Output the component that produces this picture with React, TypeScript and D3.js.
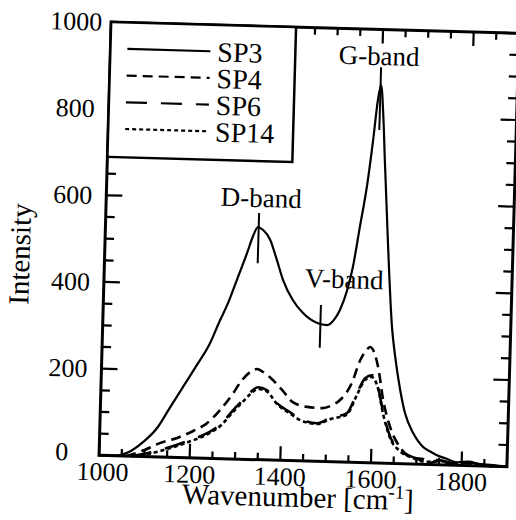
import React from "react";
import * as d3 from "d3";

// Raman spectra: [wavenumber, intensity]
const sp3 = [
  [1030, 0], [1046, 2], [1070, 12], [1096, 33], [1128, 69], [1153, 114],
  [1181, 163], [1210, 214], [1238, 266], [1258, 318], [1275, 359],
  [1293, 413], [1314, 476], [1326, 515], [1336, 536], [1348, 530],
  [1364, 508], [1380, 462], [1395, 416], [1418, 370], [1441, 341],
  [1473, 319], [1495, 315], [1510, 328], [1522, 350], [1537, 397],
  [1548, 450], [1561, 543], [1574, 636], [1585, 745], [1593, 837],
  [1599, 872], [1606, 800], [1612, 699], [1624, 508], [1638, 315],
  [1647, 246], [1660, 170], [1672, 117], [1691, 72], [1714, 40],
  [1730, 30], [1745, 22], [1765, 15], [1790, 7], [1815, 9], [1841, 4],
  [1870, 3], [1900, 0],
];

const sp4 = [
  [1060, 0], [1100, 15], [1133, 32], [1171, 45], [1206, 62], [1236, 81],
  [1264, 112], [1289, 147], [1311, 183], [1330, 203], [1343, 209],
  [1356, 203], [1372, 191], [1400, 162], [1424, 135], [1456, 125],
  [1489, 123], [1510, 130], [1528, 143], [1553, 183], [1570, 236],
  [1582, 258], [1591, 267], [1600, 256], [1610, 221], [1623, 146],
  [1640, 84], [1663, 38], [1693, 14], [1715, 12], [1730, 4], [1750, 9],
  [1775, 4], [1800, 7], [1830, 2], [1860, 0],
];

const sp6 = [
  [1070, 0], [1110, 9], [1149, 21], [1200, 41], [1237, 58], [1269, 82],
  [1293, 113], [1314, 137], [1330, 155], [1346, 167], [1366, 161],
  [1389, 132], [1418, 112], [1448, 94], [1479, 88], [1507, 101],
  [1544, 113], [1565, 160], [1582, 195], [1597, 202], [1611, 175],
  [1624, 116], [1641, 61], [1663, 31], [1692, 16], [1720, 8], [1750, 11],
  [1780, 5], [1810, 8], [1850, 2], [1880, 0],
];

const sp14 = [
  [1075, 0], [1115, 8], [1150, 19], [1200, 38], [1237, 55], [1269, 79],
  [1293, 109], [1314, 133], [1330, 151], [1346, 163], [1366, 158],
  [1389, 130], [1418, 109], [1448, 91], [1479, 86], [1507, 98],
  [1544, 110], [1565, 156], [1582, 191], [1597, 198], [1611, 172],
  [1624, 113], [1641, 58], [1663, 29], [1692, 14], [1720, 6], [1750, 9],
  [1780, 4], [1810, 6], [1850, 1], [1880, 0],
];

const seriesNames = ["SP3", "SP4", "SP6", "SP14"];
const seriesData = [sp3, sp4, sp6, sp14];
const dashes = ["none", "10,6", "21,14", "4,3"];

const xMajor = [1000, 1200, 1400, 1600, 1800];
const yMajor = [0, 200, 400, 600, 800, 1000];

// band markers: [label, wavenumber, tick from, tick to, label x, label baseline]
const bands: [string, number, number, number, number, number][] = [
  ["D-band", 1338, 453, 569, 1342, 583],
  ["V-band", 1480, 262, 361, 1530, 401],
  ["G-band", 1598, 768, 913, 1593, 918],
];

const width = 516;
const height = 520;
const frame = { left: 105, right: 513, top: 27.5, bottom: 461 };
const serif = "Times New Roman";
const tilt = "rotate(1.6 307 245)";

const App = () => {
  const x = d3.scaleLinear().domain([1000, 1900]).range([frame.left, frame.right]);
  const y = d3.scaleLinear().domain([0, 1000]).range([frame.bottom, frame.top]);

  const line = d3
    .line<number[]>()
    .x((d) => x(d[0]))
    .y((d) => y(d[1]))
    .curve(d3.curveMonotoneX);

  const xMinor = d3.range(1000, 1901, 50);
  const yMinor = d3.range(0, 1001, 50);

  return (
    <svg width={width} height={height} style={{ position: "absolute", left: 0, top: 0, background: "#fff" }}>
      <rect width={width} height={height} fill="#fff" />
      <g transform={tilt}>
        {/* ticks, pointing inward on all four sides */}
        {xMinor.map((v) => {
          const len = v % 200 === 0 ? 14 : 7;
          return (
            <g key={"xt" + v} stroke="#000" strokeWidth={2.2}>
              <line x1={x(v)} x2={x(v)} y1={frame.bottom} y2={frame.bottom - len} />
              <line x1={x(v)} x2={x(v)} y1={frame.top} y2={frame.top + len} />
            </g>
          );
        })}
        {yMinor.map((v) => {
          const len = v % 200 === 0 ? 16 : 9;
          return (
            <g key={"yt" + v} stroke="#000" strokeWidth={2.2}>
              <line x1={frame.left} x2={frame.left + len} y1={y(v)} y2={y(v)} />
              <line x1={frame.right} x2={frame.right - len} y1={y(v)} y2={y(v)} />
            </g>
          );
        })}
        <rect
          x={frame.left}
          y={frame.top}
          width={frame.right - frame.left}
          height={frame.bottom - frame.top}
          fill="none"
          stroke="#000"
          strokeWidth={3}
        />

        {/* spectra */}
        {seriesData.map((d, i) => (
          <path
            key={seriesNames[i]}
            d={line(d) || ""}
            fill="none"
            stroke="#000"
            strokeWidth={i === 0 ? 2.2 : 2.6}
            strokeDasharray={dashes[i]}
          />
        ))}

        {/* band marker lines */}
        {bands.map((b) => (
          <line key={"bt" + b[0]} x1={x(b[1])} x2={x(b[1])} y1={y(b[2])} y2={y(b[3])} stroke="#000" strokeWidth={2} />
        ))}

        {/* legend box and samples */}
        <rect x={frame.left} y={frame.top} width={185} height={135} fill="#fff" stroke="#000" strokeWidth={2.5} />
        {seriesNames.map((name, i) => (
          <line
            key={"ll" + name}
            x1={122}
            x2={205}
            y1={54 + i * 26.7}
            y2={54 + i * 26.7}
            stroke="#000"
            strokeWidth={2.2}
            strokeDasharray={dashes[i]}
          />
        ))}
      </g>

      {/* all text, same tilt */}
      <g transform={tilt} fill="#000">
        {bands.map((b) => (
          <text key={"bl" + b[0]} x={x(b[4])} y={y(b[5])} textAnchor="middle" fontSize={27} fontFamily={serif}>
            {b[0]}
          </text>
        ))}
        {seriesNames.map((name, i) => (
          <text key={"lt" + name} x={212} y={54 + i * 26.7 + 10} fontSize={28} fontFamily={serif}>
            {name}
          </text>
        ))}
        {xMajor.map((v) => (
          <text
            key={"xl" + v}
            x={x(v) + (v === 1000 ? 4 : 0)}
            y={frame.bottom + 25}
            textAnchor="middle"
            fontSize={26}
            fontFamily={serif}
          >
            {String(v)}
          </text>
        ))}
        {yMajor.map((v) => (
          <text
            key={"yl" + v}
            x={v === 0 ? frame.left - 31 : frame.left - (v === 1000 ? 9 : 14)}
            y={y(v) + (v === 0 ? 6 : 9)}
            textAnchor="end"
            fontSize={26}
            fontFamily={serif}
          >
            {String(v)}
          </text>
        ))}
        <text x={305} y={507} textAnchor="middle" fontSize={29} fontFamily={serif}>
          Wavenumber [cm
          <tspan fontSize={19} dy={-11}>-1</tspan>
          <tspan dy={11}>]</tspan>
        </text>
        <text transform="translate(30,262) rotate(-90)" textAnchor="middle" fontSize={29} fontFamily={serif}>
          Intensity
        </text>
      </g>
    </svg>
  );
};

export default App;
